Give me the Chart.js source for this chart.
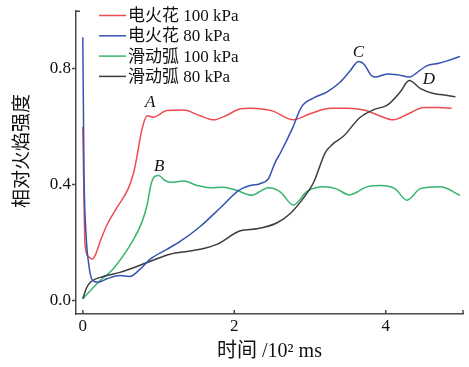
<!DOCTYPE html>
<html>
<head>
<meta charset="utf-8">
<script src="https://cdn.jsdelivr.net/npm/chart.js@4/dist/chart.umd.min.js"></script>
<style>
  html, body { margin: 0; padding: 0; background: #fff; }
  #wrap { width: 469px; height: 367px; }
</style>
</head>
<body>
<div id="wrap"><canvas id="c" width="469" height="367"></canvas></div>
<script>
// Axis ticks (time in 10^2 ms, relative flame intensity)
const xTicks = [0, 2, 4];
const yTicks = [0, 0.4, 0.8];

const seriesNames = ['电火花 100 kPa', '电火花 80 kPa', '滑动弧 100 kPa', '滑动弧 80 kPa'];
const yTitle = '相对火焰强度';
const xTitle = '时间 /10² ms';

// 电火花 100 kPa
const spark100T = [0, 0.03, 0.08, 0.12, 0.16, 0.23, 0.32, 0.45, 0.60, 0.67, 0.71, 0.78, 0.85, 0.93, 1.11, 1.33, 1.55, 1.73, 1.90, 2.08, 2.21, 2.50, 2.78, 3.00, 3.27, 3.50, 3.71, 3.90, 4.10, 4.30, 4.50, 4.70, 4.87];
const spark100V = [0.60, 0.19, 0.15, 0.142, 0.153, 0.204, 0.261, 0.32, 0.386, 0.44, 0.49, 0.59, 0.638, 0.633, 0.656, 0.658, 0.638, 0.624, 0.64, 0.662, 0.664, 0.655, 0.624, 0.645, 0.664, 0.664, 0.658, 0.64, 0.624, 0.645, 0.667, 0.667, 0.664];

// 电火花 80 kPa
const spark80T = [0, 0.015, 0.04, 0.08, 0.11, 0.15, 0.20, 0.32, 0.49, 0.62, 0.76, 0.89, 1.11, 1.29, 1.55, 1.81, 2.06, 2.20, 2.34, 2.45, 2.54, 2.61, 2.76, 2.89, 3.05, 3.22, 3.40, 3.53, 3.64, 3.72, 3.80, 3.86, 4.02, 4.15, 4.32, 4.40, 4.54, 4.70, 4.81, 4.98];
const spark80V = [0.91, 0.45, 0.24, 0.12, 0.078, 0.065, 0.062, 0.074, 0.085, 0.082, 0.108, 0.142, 0.176, 0.204, 0.255, 0.318, 0.38, 0.396, 0.403, 0.42, 0.477, 0.51, 0.59, 0.67, 0.70, 0.72, 0.755, 0.794, 0.826, 0.815, 0.78, 0.772, 0.783, 0.78, 0.772, 0.785, 0.811, 0.82, 0.828, 0.843];

// 滑动弧 100 kPa
const arc100T = [0, 0.23, 0.40, 0.67, 0.78, 0.85, 0.90, 0.95, 1.00, 1.08, 1.15, 1.33, 1.51, 1.68, 1.86, 2.03, 2.23, 2.45, 2.61, 2.78, 2.96, 3.18, 3.35, 3.52, 3.75, 3.93, 4.12, 4.28, 4.46, 4.72, 4.98];
const arc100V = [0.005, 0.068, 0.108, 0.21, 0.27, 0.33, 0.40, 0.428, 0.431, 0.415, 0.408, 0.412, 0.397, 0.389, 0.391, 0.38, 0.363, 0.389, 0.374, 0.329, 0.376, 0.392, 0.385, 0.364, 0.392, 0.397, 0.386, 0.346, 0.386, 0.392, 0.363];

// 滑动弧 80 kPa
const arc80T = [0, 0.05, 0.10, 0.27, 0.49, 0.85, 1.15, 1.42, 1.55, 1.77, 2.08, 2.30, 2.56, 2.74, 2.91, 3.05, 3.20, 3.30, 3.44, 3.66, 3.85, 4.02, 4.19, 4.31, 4.46, 4.63, 4.72, 4.92];
const arc80V = [0.005, 0.043, 0.062, 0.082, 0.096, 0.13, 0.159, 0.17, 0.176, 0.193, 0.24, 0.247, 0.267, 0.30, 0.352, 0.409, 0.51, 0.54, 0.567, 0.632, 0.66, 0.675, 0.72, 0.76, 0.732, 0.715, 0.712, 0.704];

// Peak annotations (letter, time, intensity)
const peakLetters = ['A', 'B', 'C', 'D'];
const peakT = [0.89, 1.01, 3.64, 4.57];
const peakV = [0.685, 0.462, 0.857, 0.763];

const colors = ['#ee4b4f', '#3553b0', '#35b66e', '#3d3d3d'];
const seriesT = [spark100T, spark80T, arc100T, arc80T];
const seriesV = [spark100V, spark80V, arc100V, arc80V];
const drawOrder = [2, 0, 3, 1];

const serif = '"Liberation Serif", "Times New Roman", "Noto Sans CJK SC", serif';
const axisColor = '#4a4a4a';

const datasets = seriesNames.map((name, i) => ({
  label: name,
  data: seriesT[i].map((t, k) => ({ x: t, y: seriesV[i][k] })),
  borderColor: colors[i],
  backgroundColor: colors[i],
  borderWidth: 1.5,
  pointRadius: 0,
  cubicInterpolationMode: 'monotone',
  fill: false,
  order: drawOrder[i]
}));

// Inward x ticks, axis end caps, y title, in-plot legend and peak letters
const decorations = {
  id: 'decorations',
  afterDraw(chart) {
    const { ctx, scales: { x, y } } = chart;
    const x0 = x.left, y0 = y.bottom;
    ctx.save();
    ctx.strokeStyle = axisColor;
    ctx.lineWidth = 1.5;
    ctx.beginPath();
    xTicks.forEach(v => {
      const px = x.getPixelForValue(v);
      ctx.moveTo(px, y0);
      ctx.lineTo(px, y0 - 4);
    });
    // end caps
    ctx.moveTo(x.right, y0);
    ctx.lineTo(x.right, y0 - 4);
    ctx.moveTo(x0, y.top);
    ctx.lineTo(x0 + 4, y.top);
    ctx.stroke();

    // y axis title, rotated
    ctx.save();
    ctx.translate(23, 151);
    ctx.rotate(-Math.PI / 2);
    ctx.font = '19px ' + serif;
    ctx.textAlign = 'center';
    ctx.textBaseline = 'middle';
    ctx.fillStyle = '#111';
    ctx.fillText(yTitle, 0, 0);
    ctx.restore();

    // legend
    ctx.font = '17px ' + serif;
    ctx.textBaseline = 'middle';
    ctx.textAlign = 'left';
    chart.data.datasets.forEach((ds, i) => {
      const ry = 15.5 + i * 20.3;
      ctx.strokeStyle = ds.borderColor;
      ctx.lineWidth = 1.5;
      ctx.beginPath();
      ctx.moveTo(99, ry);
      ctx.lineTo(126, ry);
      ctx.stroke();
      ctx.fillStyle = '#111';
      ctx.fillText(ds.label, 128, ry + 1);
    });

    // peak letters
    ctx.font = 'italic 17px ' + serif;
    ctx.textAlign = 'center';
    ctx.fillStyle = '#111';
    peakLetters.forEach((s, i) => {
      ctx.fillText(s, x.getPixelForValue(peakT[i]), y.getPixelForValue(peakV[i]));
    });
    ctx.restore();
  }
};

new Chart(document.getElementById('c'), {
  type: 'line',
  data: { datasets },
  options: {
    responsive: false,
    animation: false,
    layout: { padding: { top: 6, right: 6, left: 0, bottom: 0 } },
    plugins: { legend: { display: false }, tooltip: { enabled: false } },
    scales: {
      x: {
        type: 'linear',
        min: -0.09,
        max: 5.02,
        afterBuildTicks: s => { s.ticks = xTicks.map(v => ({ value: v })); },
        afterFit: s => { s.height = 53; },
        grid: { display: true, drawOnChartArea: false, drawTicks: false },
        border: { display: true, color: axisColor, width: 1.5 },
        ticks: {
          color: '#111',
          font: { family: serif, size: 17 },
          padding: 2,
          maxRotation: 0,
          callback: v => String(v)
        },
        title: {
          display: true,
          text: xTitle,
          color: '#111',
          font: { family: serif, size: 20 },
          padding: { top: 0, bottom: 3 }
        }
      },
      y: {
        type: 'linear',
        min: -0.048,
        max: 1.0,
        afterBuildTicks: s => { s.ticks = yTicks.map(v => ({ value: v })); },
        afterFit: s => { s.width = 76; },
        grid: { display: true, drawOnChartArea: false, drawTicks: true, tickLength: 4, tickColor: axisColor, tickWidth: 1.5 },
        border: { display: true, color: axisColor, width: 1.5 },
        ticks: {
          color: '#111',
          font: { family: serif, size: 17 },
          padding: 1,
          callback: v => v.toFixed(1)
        }
      }
    }
  },
  plugins: [decorations]
});
</script>
</body>
</html>
